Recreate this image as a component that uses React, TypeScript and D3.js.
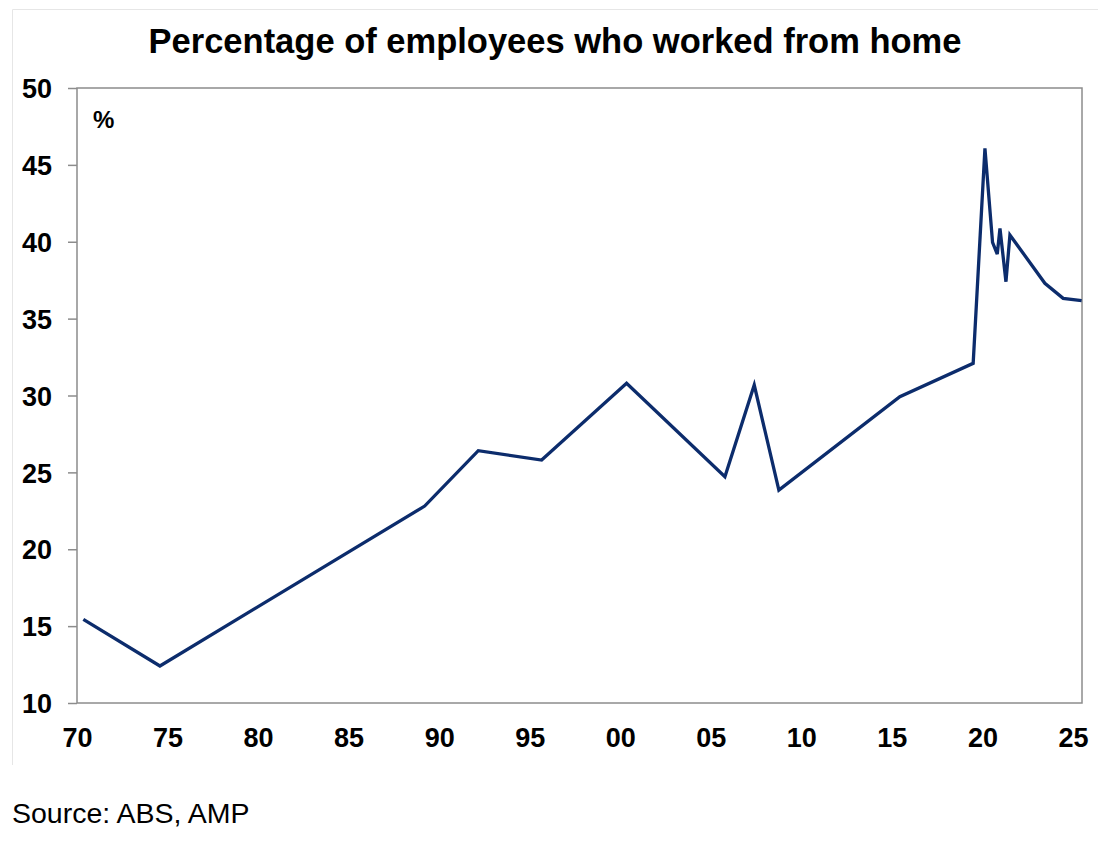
import React, { useEffect, useRef } from 'react';
import * as d3 from 'd3';

// (year as decimal, % of employees)
const years = [1970.35, 1974.58, 1989.2, 1992.16, 1995.66, 2000.35, 2005.78, 2007.4, 2008.76, 2015.44, 2019.49, 2020.14, 2020.56, 2020.82, 2020.97, 2021.3, 2021.52, 2023.45, 2024.46, 2025.48];
const values = [15.44, 12.41, 22.81, 26.41, 25.8, 30.79, 24.72, 30.68, 23.85, 29.92, 32.09, 46.08, 39.96, 39.2, 40.87, 37.4, 40.44, 37.3, 36.32, 36.17];
const xTicks = [1970, 1975, 1980, 1985, 1990, 1995, 2000, 2005, 2010, 2015, 2020, 2025];
const yTicks = [10, 15, 20, 25, 30, 35, 40, 45, 50];

const title = 'Percentage of employees who worked from home';
const source = 'Source: ABS, AMP';

const W = 1112;
const H = 852;

export default function App() {
    const svgRef = useRef<SVGSVGElement>(null);

    useEffect(() => {
        if (!svgRef.current) return;
        const svg = d3.select(svgRef.current);
        svg.selectAll('*').remove();

        const left = 77, right = 1082, top = 88, bottom = 703;
        const font = 'Liberation Sans, Arial, sans-serif';

        const x = d3.scaleLinear().domain([1970, 2025.5]).range([left, right]);
        const y = d3.scaleLinear().domain([10, 50]).range([bottom, top]);

        // faint outer frame
        svg.append('line').attr('x1', 12.5).attr('x2', 1098).attr('y1', 9.5).attr('y2', 9.5)
            .attr('stroke', '#e6e6e6').attr('stroke-width', 1);
        svg.append('line').attr('x1', 12.5).attr('x2', 12.5).attr('y1', 9.5).attr('y2', 765)
            .attr('stroke', '#e6e6e6').attr('stroke-width', 1);

        svg.append('text')
            .attr('x', 555).attr('y', 53)
            .attr('text-anchor', 'middle')
            .style('font-family', font).style('font-weight', 'bold').style('font-size', '34.5px')
            .attr('fill', '#000')
            .text(title);

        // plot frame
        svg.append('rect')
            .attr('x', left).attr('y', top)
            .attr('width', right - left).attr('height', bottom - top)
            .attr('fill', 'none').attr('stroke', '#8c8c8c').attr('stroke-width', 1.5);

        // y axis
        const yAxis = svg.append('g')
            .attr('transform', `translate(${left},0)`)
            .call(d3.axisLeft(y).tickValues(yTicks).tickSize(9).tickPadding(16).tickFormat(d3.format('d')));
        yAxis.select('.domain').remove();
        yAxis.selectAll('line').attr('stroke', '#8c8c8c').attr('stroke-width', 1.5);
        yAxis.selectAll('text')
            .attr('dy', '0.36em')
            .style('font-family', font).style('font-weight', 'bold').style('font-size', '27px')
            .attr('fill', '#000');

        // x axis
        const xAxis = svg.append('g')
            .attr('transform', `translate(0,${bottom})`)
            .call(d3.axisBottom(x).tickValues(xTicks).tickSize(0).tickPadding(25)
                .tickFormat((d) => String(Number(d) % 100).padStart(2, '0')));
        xAxis.select('.domain').remove();
        xAxis.selectAll('text')
            .style('font-family', font).style('font-weight', 'bold').style('font-size', '27px')
            .attr('fill', '#000');

        svg.append('text')
            .attr('x', 93).attr('y', 128)
            .style('font-family', font).style('font-weight', 'bold').style('font-size', '24px')
            .attr('fill', '#000')
            .text('%');

        const line = d3.line<number>()
            .x((_, i) => x(years[i]))
            .y((d) => y(d));

        svg.append('path')
            .datum(values)
            .attr('d', line)
            .attr('fill', 'none')
            .attr('stroke', '#0c2c6c')
            .attr('stroke-width', 3.3)
            .attr('stroke-linejoin', 'miter');

        svg.append('text')
            .attr('x', 12).attr('y', 823)
            .style('font-family', font).style('font-size', '28.5px')
            .attr('fill', '#000')
            .text(source);
    }, []);

    return (
        <svg
            ref={svgRef}
            width={W}
            height={H}
            style={{ position: 'absolute', left: 0, top: 0, background: '#fff' }}
        />
    );
}
